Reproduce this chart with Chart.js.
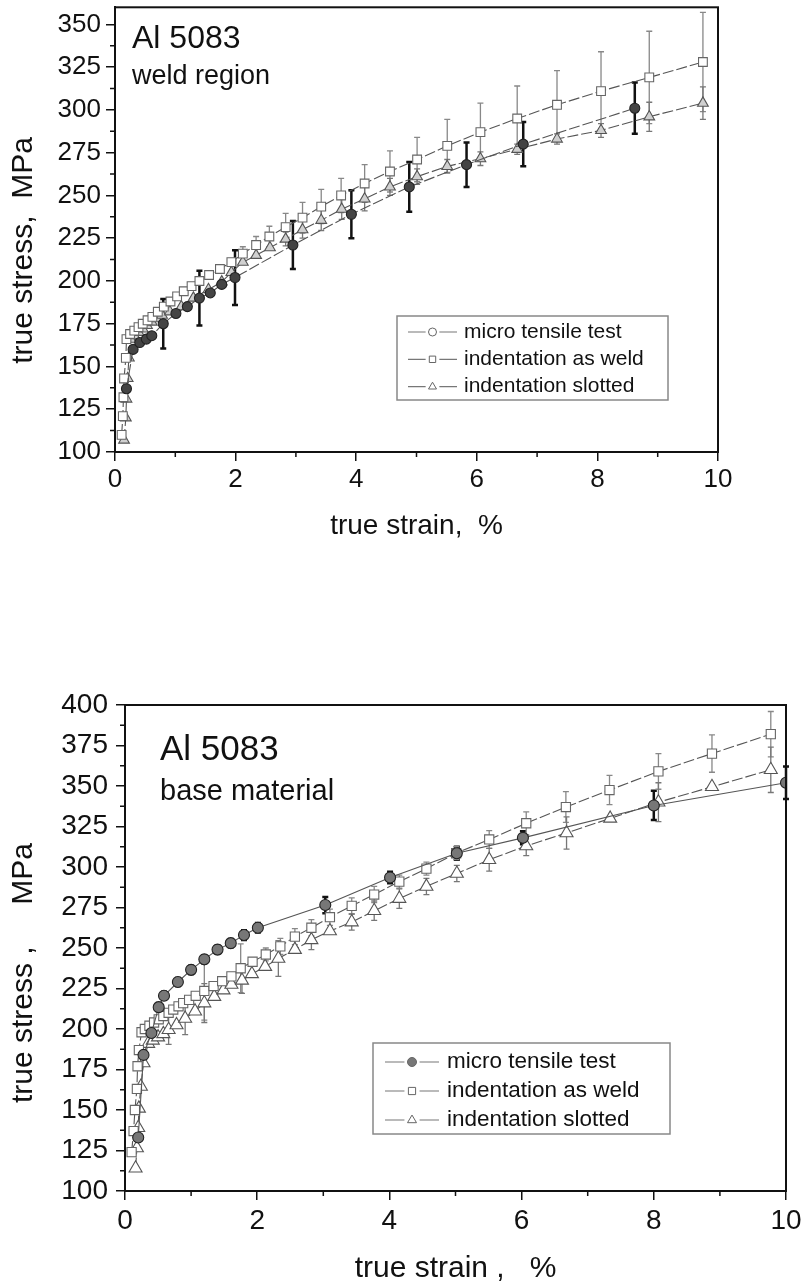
<!DOCTYPE html>
<html>
<head>
<meta charset="utf-8">
<script src="https://cdn.jsdelivr.net/npm/chart.js@4.4.1/dist/chart.umd.min.js"></script>
<style>
  html, body { margin: 0; padding: 0; background: #fff; }
  .wrap { position: absolute; left: 0; width: 809px; }
  #weldWrap { top: 0; height: 560px; }
  #baseWrap { top: 640px; height: 648px; }
</style>
</head>
<body>
<div class="wrap" id="weldWrap"><canvas id="weldChart" width="809" height="560"></canvas></div>
<div class="wrap" id="baseWrap"><canvas id="baseChart" width="809" height="648"></canvas></div>
<script>
const seriesNames = ['micro tensile test', 'indentation as weld', 'indentation slotted'];
const strainTicks = [0, 2, 4, 6, 8, 10];

// --- weld region (top chart) ---
const weldStressTicks = [100, 125, 150, 175, 200, 225, 250, 275, 300, 325, 350];
const weldMicroStrain = [0.19, 0.30, 0.41, 0.52, 0.61, 0.80, 1.01, 1.20, 1.40, 1.58, 1.77, 1.99, 2.95, 3.92, 4.88, 5.83, 6.77, 8.62];
const weldMicroStress = [137, 160, 164, 166, 168, 175, 181, 185, 190, 193, 198, 202, 221, 239, 255, 268, 280, 301];
const weldMicroErr    = [0, 0, 0, 0, 0, 14.5, 0, 0, 16, 0, 0, 16, 14, 14, 14.5, 13, 13, 15];

const weldAsStrain = [0.11, 0.13, 0.14, 0.15, 0.18, 0.19, 0.25, 0.32, 0.39, 0.46, 0.54, 0.62, 0.71, 0.81, 0.92, 1.03, 1.14, 1.27, 1.40, 1.56, 1.74, 1.93, 2.12, 2.34, 2.56, 2.83, 3.11, 3.42, 3.75, 4.14, 4.56, 5.01, 5.51, 6.06, 6.67, 7.33, 8.06, 8.86, 9.75];
const weldAsStress = [110, 121, 132, 143, 155, 166, 169, 171, 173, 175, 177, 179, 182, 185, 188, 191, 194, 197, 200, 203.5, 207, 211, 216, 221, 226, 231.5, 237, 243.5, 250, 257, 264, 271, 279, 287, 295, 303, 311, 319, 328];
const weldAsErr    = [0, 0, 0, 0, 0, 0, 0, 0, 0, 0, 0, 0, 0, 0, 0, 0, 0, 0, 0, 0, 0, 0, 4, 5, 6, 8, 9, 10, 10, 11, 12, 13, 15.5, 17, 19, 20, 23, 27, 29];

const weldSlStrain = [0.15, 0.18, 0.19, 0.21, 0.23, 0.26, 0.32, 0.39, 0.46, 0.53, 0.61, 0.69, 0.78, 0.91, 1.10, 1.30, 1.55, 1.77, 1.93, 2.12, 2.34, 2.57, 2.83, 3.11, 3.42, 3.76, 4.14, 4.56, 5.01, 5.51, 6.06, 6.67, 7.33, 8.06, 8.86, 9.75];
const weldSlStress = [107, 120, 131, 143, 155, 166, 168, 170, 172, 174, 176, 178, 180, 182, 185, 190, 195, 199.5, 205, 211, 215, 219.5, 224.5, 230, 235.5, 242, 248, 255, 261, 267, 271.5, 277, 283, 288, 296, 304];
const weldSlErr    = [0, 0, 0, 0, 0, 0, 0, 0, 0, 0, 0, 0, 0, 0, 0, 0, 0, 0, 0, 0, 0, 0, 4, 5, 6, 6, 7, 5, 4.5, 4, 4, 3, 3, 4, 8.5, 9.5];

// --- base material (bottom chart) ---
const baseStressTicks = [100, 125, 150, 175, 200, 225, 250, 275, 300, 325, 350, 375, 400];
const baseMicroStrain = [0.20, 0.28, 0.40, 0.51, 0.59, 0.80, 1.00, 1.20, 1.40, 1.60, 1.80, 2.01, 3.03, 4.01, 5.02, 6.02, 8.00, 10.0];
const baseMicroStress = [133, 184, 197.5, 213.5, 220.5, 229, 236.5, 243, 249, 253, 258, 262.5, 276.5, 293.5, 308.5, 318, 338, 352];
const baseMicroErr    = [2, 2, 2, 2.5, 2.5, 2.5, 2.5, 2.5, 2.5, 2.5, 3, 3, 5, 3.5, 4, 4, 9, 10];

const baseAsStrain = [0.10, 0.13, 0.15, 0.18, 0.19, 0.21, 0.25, 0.30, 0.37, 0.44, 0.51, 0.58, 0.66, 0.73, 0.81, 0.88, 0.97, 1.07, 1.20, 1.34, 1.47, 1.61, 1.75, 1.93, 2.13, 2.35, 2.57, 2.82, 3.10, 3.43, 3.77, 4.15, 4.56, 5.01, 5.51, 6.07, 6.67, 7.33, 8.07, 8.88, 9.77];
const baseAsStress = [124, 137, 150, 163, 177, 187, 198, 200, 202, 204, 206, 208, 210, 212, 214, 216, 218, 220.5, 223.5, 226.5, 229.5, 232.5, 237.5, 241.5, 246, 251, 257, 262.5, 269, 276, 283, 291, 299, 308.5, 317, 327, 337, 347.5, 359, 370, 382];
const baseAsErr    = [0, 0, 0, 0, 0, 0, 0, 0, 0, 0, 0, 0, 0, 0, 0, 0, 0, 0, 18, 0, 0, 0, 15, 0, 4, 5, 5, 5, 5, 5, 5, 4, 4, 4, 5.5, 7, 9.5, 9, 11, 11.5, 14];

const baseSlStrain = [0.16, 0.18, 0.20, 0.21, 0.24, 0.28, 0.35, 0.42, 0.50, 0.58, 0.66, 0.78, 0.91, 1.06, 1.20, 1.35, 1.49, 1.61, 1.77, 1.92, 2.12, 2.32, 2.57, 2.82, 3.10, 3.43, 3.77, 4.15, 4.56, 5.02, 5.51, 6.07, 6.68, 7.34, 8.07, 8.88, 9.77];
const baseSlStress = [114, 126.5, 139, 151, 164.5, 179, 191, 193, 195, 197, 199.5, 202.5, 206.5, 211, 216, 220, 224, 227.5, 230, 234, 238.5, 243.5, 249, 255, 260.5, 266, 273, 280.5, 288, 296, 304.5, 313, 321, 330, 340, 349.5, 360];
const baseSlErr    = [0, 0, 0, 0, 0, 0, 0, 0, 0, 0, 9, 0, 10, 0, 12, 0, 0, 0, 8, 0, 0, 11, 0, 6, 0, 5, 6, 6, 5, 5, 7, 6, 10, 0, 12, 0, 14];

const FONT = '"Liberation Sans", Arial, Helvetica, sans-serif';

function pts(xs, ys) {
  return xs.map((x, i) => ({ x: x, y: ys[i] }));
}

// error bars, drawn under the lines and markers
const errorBars = {
  id: 'errorBars',
  beforeDatasetsDraw(chart) {
    const { ctx } = chart;
    const xs = chart.scales.x, ys = chart.scales.y;
    chart.data.datasets.forEach((ds) => {
      if (!ds.errors) return;
      ctx.save();
      ctx.strokeStyle = ds.errColor;
      ctx.lineWidth = ds.errWidth;
      ds.data.forEach((p, i) => {
        const e = ds.errors[i];
        if (!e) return;
        const px = xs.getPixelForValue(p.x);
        const top = ys.getPixelForValue(p.y + e);
        const bot = ys.getPixelForValue(p.y - e);
        ctx.beginPath();
        ctx.moveTo(px, top); ctx.lineTo(px, bot);
        ctx.moveTo(px - 3, top); ctx.lineTo(px + 3, top);
        ctx.moveTo(px - 3, bot); ctx.lineTo(px + 3, bot);
        ctx.stroke();
      });
      ctx.restore();
    });
  }
};

// frame + minor ticks
const frame = {
  id: 'frame',
  afterDraw(chart, args, o) {
    const { ctx, chartArea: ca } = chart;
    const xs = chart.scales.x, ys = chart.scales.y;
    ctx.save();
    ctx.strokeStyle = '#111';
    ctx.lineWidth = 2;
    ctx.strokeRect(ca.left, ca.top, ca.right - ca.left, ca.bottom - ca.top);
    ctx.lineWidth = 1.5;
    ctx.beginPath();
    for (let v = 1; v < 10; v += 2) {
      const px = xs.getPixelForValue(v);
      ctx.moveTo(px, ca.bottom); ctx.lineTo(px, ca.bottom + 5);
    }
    for (let v = o.yMin + 12.5; v < o.yMax; v += 25) {
      const py = ys.getPixelForValue(v);
      ctx.moveTo(ca.left, py); ctx.lineTo(ca.left - 5, py);
    }
    ctx.stroke();
    ctx.restore();
  }
};

function drawMarker(ctx, style, x, y, r, fill, stroke) {
  ctx.beginPath();
  if (style === 'circle') {
    ctx.arc(x, y, r, 0, Math.PI * 2);
  } else if (style === 'rect') {
    ctx.rect(x - r * 0.8, y - r * 0.8, r * 1.6, r * 1.6);
  } else {
    ctx.moveTo(x, y - r * 1.1);
    ctx.lineTo(x + r, y + r * 0.6);
    ctx.lineTo(x - r, y + r * 0.6);
    ctx.closePath();
  }
  ctx.fillStyle = fill;
  ctx.fill();
  ctx.strokeStyle = stroke;
  ctx.lineWidth = 1;
  ctx.stroke();
}

const boxLegend = {
  id: 'boxLegend',
  afterDraw(chart, args, o) {
    const { ctx, chartArea: ca } = chart;
    const x0 = ca.right - o.right - o.width;
    const y0 = ca.bottom - o.bottom - o.height;
    ctx.save();
    ctx.fillStyle = '#fff';
    ctx.fillRect(x0, y0, o.width, o.height);
    ctx.strokeStyle = '#888';
    ctx.lineWidth = 1.5;
    ctx.strokeRect(x0, y0, o.width, o.height);
    chart.data.datasets.forEach((ds, i) => {
      const y = y0 + o.firstRow + i * o.rowGap;
      const lx = x0 + o.lineStart;
      ctx.strokeStyle = '#777';
      ctx.lineWidth = 1.2;
      ctx.beginPath();
      ctx.moveTo(lx, y); ctx.lineTo(lx + o.lineLen * 0.36, y);
      ctx.moveTo(lx + o.lineLen * 0.64, y); ctx.lineTo(lx + o.lineLen, y);
      ctx.stroke();
      drawMarker(ctx, ds.pointStyle, lx + o.lineLen / 2, y, o.markerR, ds.legendFill, '#666');
      ctx.fillStyle = '#111';
      ctx.font = o.font;
      ctx.textAlign = 'left';
      ctx.textBaseline = 'middle';
      ctx.fillText(ds.label, x0 + o.textStart, y);
    });
    ctx.restore();
  }
};

const cornerText = {
  id: 'cornerText',
  afterDraw(chart, args, o) {
    const { ctx, chartArea: ca } = chart;
    ctx.save();
    ctx.fillStyle = '#111';
    ctx.textAlign = 'left';
    ctx.textBaseline = 'middle';
    o.items.forEach((it) => {
      ctx.font = it.font;
      ctx.fillText(it.text, ca.left + it.dx, ca.top + it.dy);
    });
    ctx.restore();
  }
};

function makeChart(id, c) {
  const ctx = document.getElementById(id).getContext('2d');
  return new Chart(ctx, {
    type: 'scatter',
    data: { datasets: c.datasets },
    options: {
      responsive: false,
      animation: false,
      events: [],
      layout: { padding: c.padding },
      scales: {
        x: {
          type: 'linear', min: 0, max: 10,
          afterBuildTicks: (s) => { s.ticks = strainTicks.map(v => ({ value: v })); },
          afterFit: (s) => { s.height = c.xHeight; s.paddingLeft = 0; s.paddingRight = 0; },
          grid: { drawOnChartArea: false, drawTicks: true, tickLength: 9, color: '#111', lineWidth: 1.5 },
          border: { display: true, color: '#111', width: 2 },
          ticks: { color: '#111', font: { family: FONT, size: c.tickSize }, padding: c.xTickPad, maxRotation: 0 },
          title: { display: true, text: c.xTitle, color: '#111', font: { family: FONT, size: c.xTitleSize }, padding: { top: 0, bottom: c.xTitlePad } }
        },
        y: {
          type: 'linear', min: c.yMin, max: c.yMax,
          afterBuildTicks: (s) => { s.ticks = c.yTicks.map(v => ({ value: v })); },
          afterFit: (s) => { s.width = c.yWidth; s.paddingTop = 0; s.paddingBottom = 0; },
          grid: { drawOnChartArea: false, drawTicks: true, tickLength: 9, color: '#111', lineWidth: 1.5 },
          border: { display: true, color: '#111', width: 2 },
          ticks: { color: '#111', font: { family: FONT, size: c.tickSize }, padding: c.yTickPad },
          title: { display: true, text: c.yTitle, color: '#111', font: { family: FONT, size: 30 }, padding: { top: 6, bottom: 0 } }
        }
      },
      plugins: {
        legend: { display: false },
        tooltip: { enabled: false },
        frame: { yMin: c.yMin, yMax: c.yMax },
        boxLegend: c.legend,
        cornerText: { items: c.texts }
      }
    },
    plugins: [errorBars, frame, boxLegend, cornerText]
  });
}

function series(label, xs, ys, errs, s) {
  return Object.assign({
    label: label,
    data: pts(xs, ys),
    errors: errs,
    showLine: true,
    borderColor: '#555',
    borderWidth: 1.1,
    borderDash: [11, 3],
    pointBorderWidth: 1.1
  }, s);
}

makeChart('weldChart', {
  padding: { left: 0, right: 91, top: 7, bottom: 0 },
  xHeight: 108, yWidth: 115,
  yMin: 100, yMax: 360, yTicks: weldStressTicks,
  tickSize: 26, xTickPad: 3, yTickPad: 5,
  xTitle: 'true strain,  %', xTitleSize: 28, xTitlePad: 17,
  yTitle: 'true stress,  MPa     ',
  datasets: [
    series(seriesNames[0], weldMicroStrain, weldMicroStress, weldMicroErr, {
      pointStyle: 'circle', pointRadius: 5, pointBackgroundColor: '#444', pointBorderColor: '#222',
      errColor: '#111', errWidth: 2.5, legendFill: '#fff'
    }),
    series(seriesNames[1], weldAsStrain, weldAsStress, weldAsErr, {
      pointStyle: 'rect', pointRadius: 6.2, pointBackgroundColor: '#fff', pointBorderColor: '#666',
      errColor: '#888', errWidth: 1.3, legendFill: '#fff'
    }),
    series(seriesNames[2], weldSlStrain, weldSlStress, weldSlErr, {
      pointStyle: 'triangle', pointRadius: 6.2, pointBackgroundColor: '#d0d0d0', pointBorderColor: '#555',
      errColor: '#777', errWidth: 1.3, legendFill: '#fff'
    })
  ],
  legend: { right: 50, bottom: 52, width: 271, height: 84, firstRow: 16, rowGap: 27.3, lineStart: 11, lineLen: 49, textStart: 67, markerR: 4, font: '21px ' + FONT },
  texts: [
    { text: 'Al 5083', dx: 17, dy: 32, font: '32px ' + FONT },
    { text: 'weld region', dx: 17, dy: 69, font: '27px ' + FONT }
  ]
});

makeChart('baseChart', {
  padding: { left: 0, right: 23, top: 65, bottom: 0 },
  xHeight: 97, yWidth: 125,
  yMin: 100, yMax: 400, yTicks: baseStressTicks,
  tickSize: 28, xTickPad: 4, yTickPad: 8,
  xTitle: 'true strain ,   %', xTitleSize: 30, xTitlePad: 1,
  yTitle: 'true stress ,     MPa      ',
  datasets: [
    series(seriesNames[0], baseMicroStrain, baseMicroStress, baseMicroErr, {
      pointStyle: 'circle', pointRadius: 5.5, pointBackgroundColor: '#777', pointBorderColor: '#222',
      borderDash: [], errColor: '#111', errWidth: 2.5, legendFill: '#777'
    }),
    series(seriesNames[1], baseAsStrain, baseAsStress, baseAsErr, {
      pointStyle: 'rect', pointRadius: 6.5, pointBackgroundColor: '#fff', pointBorderColor: '#666',
      errColor: '#888', errWidth: 1.3, legendFill: '#fff'
    }),
    series(seriesNames[2], baseSlStrain, baseSlStress, baseSlErr, {
      pointStyle: 'triangle', pointRadius: 7.5, pointBackgroundColor: '#fff', pointBorderColor: '#555',
      errColor: '#777', errWidth: 1.3, legendFill: '#fff'
    })
  ],
  legend: { right: 116, bottom: 57, width: 297, height: 91, firstRow: 19, rowGap: 29, lineStart: 12, lineLen: 54, textStart: 74, markerR: 4.5, font: '22.5px ' + FONT },
  texts: [
    { text: 'Al 5083', dx: 35, dy: 45, font: '35px ' + FONT },
    { text: 'base material', dx: 35, dy: 87, font: '29px ' + FONT }
  ]
});
</script>
</body>
</html>
